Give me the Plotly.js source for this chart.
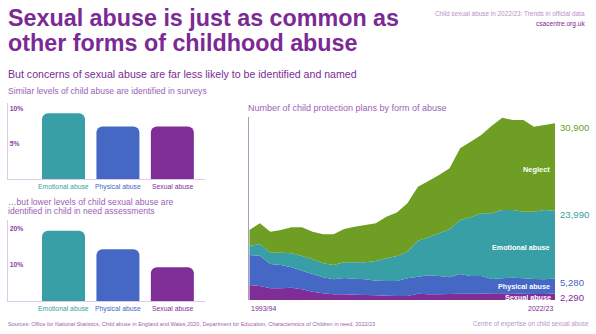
<!DOCTYPE html>
<html><head><meta charset="utf-8">
<script src="https://cdn.plot.ly/plotly-3.0.1.min.js"></script>
<style>html,body{margin:0;padding:0;background:#fff;}#chart{width:596px;height:334px;}</style>
</head><body><div id="chart"></div>
<script>
// ---- data ----
const categories = ['Emotional abuse', 'Physical abuse', 'Sexual abuse'];
const surveyPct = [9.4, 7.5, 7.5];
const cinPct = [19.5, 14.4, 9.4];
const years = ['1993/94','1994/95','1995/96','1996/97','1997/98','1998/99','1999/00','2000/01','2001/02','2002/03',
               '2003/04','2004/05','2005/06','2006/07','2007/08','2008/09','2009/10','2010/11','2011/12','2012/13',
               '2013/14','2014/15','2015/16','2016/17','2017/18','2018/19','2019/20','2020/21','2021/22','2022/23'];
const sexual = [5300,4950,4140,4140,4350,3780,2930,2370,2010,2010,1870,1770,1660,1520,1410,1410,2200,2000,2000,2100,2200,2200,2200,2400,2400,2350,2250,2150,2100,2290];
const physical = [10600,10710,8590,8240,7210,6580,6260,5660,5300,5760,5660,5550,5160,5200,5300,6260,6030,6730,6490,5920,6990,6280,6280,5030,5270,5530,5420,5270,5220,5280];
const emotional = [3290,4140,3990,4350,4950,5200,5200,4950,5060,5550,5800,6010,6960,8020,8840,9400,12730,13430,15090,16970,19090,20750,22160,23220,24140,23930,23540,23790,24500,23990];
const neglect = [5550,7320,7420,8020,9190,10150,9760,10250,10850,11770,12580,13190,13330,14710,15380,17110,19090,19900,20610,21560,25350,26730,27680,30970,32630,31820,32420,30050,30050,30900];
const seriesNames = ['Sexual abuse', 'Physical abuse', 'Emotional abuse', 'Neglect'];

// ---- style ----
const FONT = 'Liberation Sans, Arial, Helvetica, sans-serif';
const COL = {teal:'#389fa6', blue:'#4468c4', purple:'#7f2e98', green:'#6e9e23',
             title:'#7b2a95', soft:'#9a5fb6', faint:'#b793c9', axis:'#ddcbe9', tick:'#8a42a8'};
const barColors = [COL.teal, COL.blue, COL.purple];
const areaColors = [COL.purple, COL.blue, COL.teal, COL.green];
const W = 596, H = 334;
const px = x => x / W, py = y => 1 - y / H;

const traces = [];
traces.push({type:'bar', x:categories, y:surveyPct, xaxis:'x', yaxis:'y', width:0.79,
  marker:{color:barColors}, hoverinfo:'skip'});
traces.push({type:'bar', x:categories, y:cinPct, xaxis:'x2', yaxis:'y2', width:0.79,
  marker:{color:barColors}, hoverinfo:'skip'});
[sexual, physical, emotional, neglect].forEach((s, i) => {
  traces.push({type:'scatter', mode:'none', x:years, y:s, stackgroup:'cp', name:seriesNames[i],
    fillcolor:areaColors[i], xaxis:'x3', yaxis:'y3', hoverinfo:'skip'});
});

const annotations = [];
function txt(x, y, text, size, color, xanchor, opts) {
  annotations.push(Object.assign({xref:'paper', yref:'paper', x:px(x), y:py(y), text:text,
    showarrow:false, xanchor:xanchor || 'left', yanchor:'middle',
    font:{family:FONT, size:size, color:color}}, opts || {}));
}
// headings
txt(6, 18.5, '<b>Sexual abuse is just as common as</b>', 23.3, COL.title);
txt(6, 43.5, '<b>other forms of childhood abuse</b>', 23.3, COL.title);
txt(587, 13, 'Child sexual abuse in 2022/23: Trends in official data', 6.4, COL.faint, 'right');
txt(587, 24, 'csacentre.org.uk', 6.6, COL.title, 'right');
txt(6, 74, 'But concerns of sexual abuse are far less likely to be identified and named', 10.6, COL.title);
txt(6, 90.5, 'Similar levels of child abuse are identified in surveys', 8.6, COL.soft);
txt(6, 201.5, '…but lower levels of child sexual abuse are', 8.6, COL.soft);
txt(6, 211, 'identified in child in need assessments', 8.6, COL.soft);
txt(246, 108, 'Number of child protection plans by form of abuse', 9.0, COL.soft);
txt(6, 324, 'Sources: Office for National Statistics, Child abuse in England and Wales,2020, Department for Education, Characteristics of Children in need, 2022/23', 5.5, COL.soft);
txt(591, 324, 'Centre of expertise on child sexual abuse', 6.3, COL.faint, 'right');

// bar category labels
categories.forEach((c, i) => {
  ['x', 'x2'].forEach((ax, k) => {
    annotations.push({xref:ax, yref:k ? 'y2' : 'y', x:c, y:0, yanchor:'top', yshift:-2,
      text:c, showarrow:false, font:{family:FONT, size:6.8, color:barColors[i]}});
  });
});

// area labels: end values
const stacks = [sexual, physical, emotional, neglect];
let cum = 0;
const last = years.length - 1;
stacks.forEach((s, i) => {
  cum += s[last];
  annotations.push({xref:'x3', yref:'y3', x:years[last], y:cum, xanchor:'left', yanchor:'middle',
    xshift:3, yshift:-4, showarrow:false, text:s[last].toLocaleString('en-US'),
    font:{family:FONT, size:9.6, color:areaColors[i]}});
});
// in-area labels
txt(552, 169, '<b>Neglect</b>', 7.4, '#ffffff', 'right');
txt(552, 247.5, '<b>Emotional abuse</b>', 7.2, '#ffffff', 'right');
txt(552, 286.5, '<b>Physical abuse</b>', 7.2, '#ffffff', 'right');
txt(553, 297.5, '<b>Sexual abuse</b>', 7.2, '#ffffff', 'right');
// first/last year
annotations.push({xref:'x3', yref:'paper', x:years[0], y:py(308), xanchor:'left', yanchor:'middle',
  showarrow:false, text:years[0], font:{family:FONT, size:7, color:COL.title}});
annotations.push({xref:'x3', yref:'paper', x:years[last], y:py(308), xanchor:'right', yanchor:'middle',
  showarrow:false, text:years[last], font:{family:FONT, size:7, color:COL.title}});

const barX = {range:[-1.02, 2.6], showticklabels:false, showgrid:false, zeroline:false,
  showline:true, linecolor:COL.axis, linewidth:1, ticks:'', fixedrange:true, type:'category'};
const barY = (top, vals) => ({range:[0, top], tickvals:vals, ticktext:vals.map(v => '<b>' + v + '%</b>'),
  ticklabelposition:'inside', ticks:'', showgrid:false, zeroline:false, showline:true,
  linecolor:COL.axis, linewidth:1, tickfont:{family:FONT, size:6.8, color:COL.tick}, fixedrange:true});

const layout = {
  width:W, height:H, margin:{l:0, r:0, t:0, b:0}, paper_bgcolor:'#fff', plot_bgcolor:'rgba(0,0,0,0)',
  showlegend:false, barcornerradius:6, font:{family:FONT},
  xaxis: Object.assign({domain:[px(8), px(205)], anchor:'y'}, barX),
  yaxis: Object.assign({domain:[py(179), py(103)], anchor:'x'}, barY(10.86, [5, 10])),
  xaxis2: Object.assign({domain:[px(8), px(205)], anchor:'y2'}, barX),
  yaxis2: Object.assign({domain:[py(301), py(220)], anchor:'x2'}, barY(22.5, [10, 20])),
  xaxis3: {domain:[px(249.3), px(555)], anchor:'y3', type:'category', range:[0, last],
    showticklabels:false, showgrid:false, zeroline:false, showline:false, ticks:''},
  yaxis3: {domain:[py(300), py(117)], anchor:'x3', range:[0, 64700], showticklabels:false,
    showgrid:false, zeroline:false, showline:true, linecolor:'#ab9dbb', linewidth:1, ticks:''},
  annotations: annotations
};

Plotly.newPlot('chart', traces, layout, {displayModeBar:false, staticPlot:true});
</script>
</body></html>
